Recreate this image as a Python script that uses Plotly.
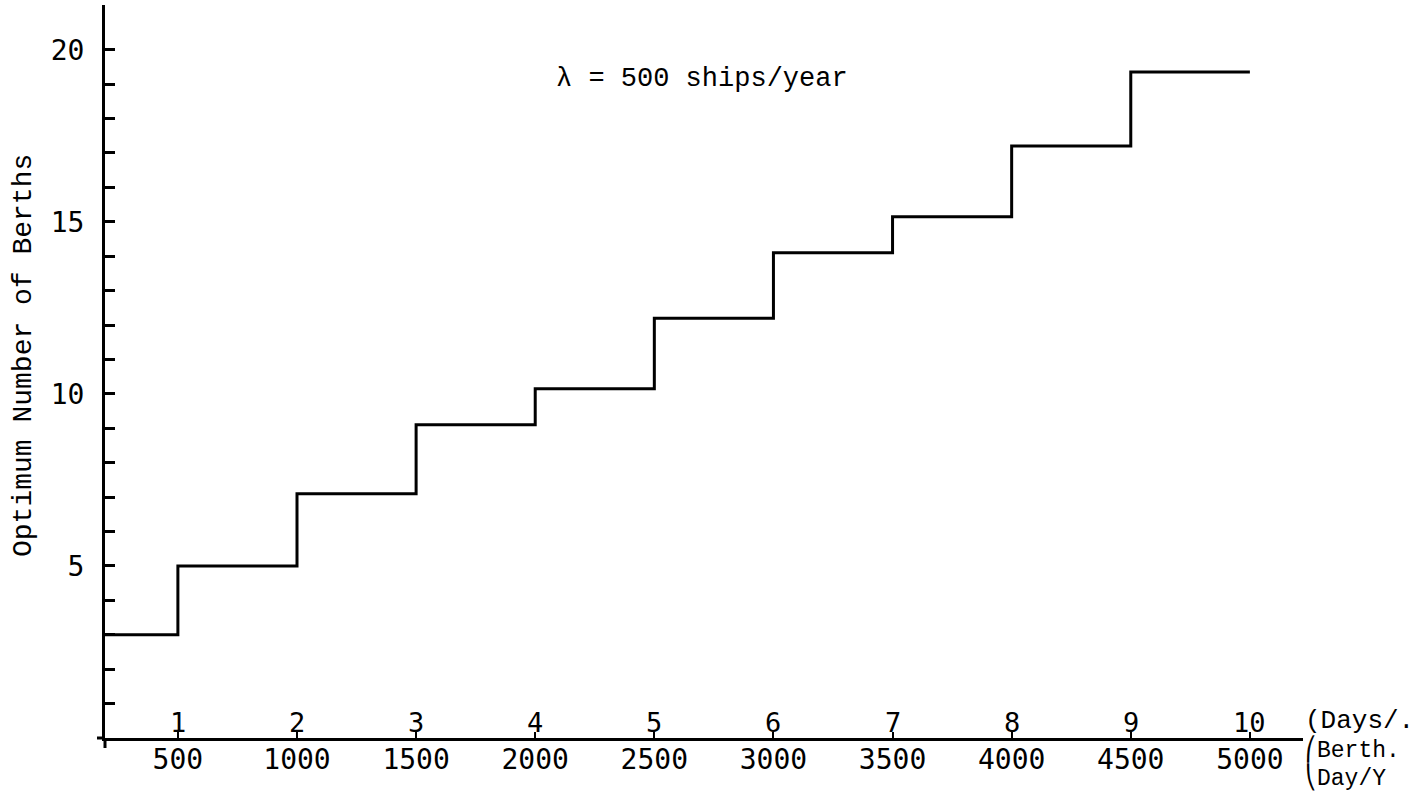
import plotly.graph_objects as go

# Annual berth cost thresholds (x) and days per ship (secondary scale)
berth_day_ticks = [500, 1000, 1500, 2000, 2500, 3000, 3500, 4000, 4500, 5000]
days_per_ship = [1, 2, 3, 4, 5, 6, 7, 8, 9, 10]

# Optimum number of berths on each interval (first level starts at the axis)
step_levels = [3, 5, 7.1, 9.1, 10.15, 12.2, 14.1, 15.15, 17.2, 19.35]

# Y-axis ticks: minor marks every berth, labels every 5
y_ticks = list(range(1, 21))
y_labels = [str(v) if v % 5 == 0 else "" for v in y_ticks]

X_MIN, X_MAX = 194, 5223
Y_MIN, Y_MAX = 0, 21.3
PLOT_W, PLOT_H = 1198, 733

MONO_SANS = "DejaVu Sans Mono"
TYPEWRITER = "Liberation Mono"

step_x = [X_MIN] + berth_day_ticks
step_y = step_levels + [step_levels[-1]]

fig = go.Figure()
fig.add_trace(go.Scatter(
    x=step_x, y=step_y, mode="lines",
    line=dict(shape="hv", color="black", width=3),
    hoverinfo="skip", showlegend=False,
))

annotations = []
# Days/ship labels sit just above the x axis
for xv, d in zip(berth_day_ticks, days_per_ship):
    annotations.append(dict(
        x=xv, y=0, xref="x", yref="y", text=str(d), showarrow=False,
        xanchor="center", yanchor="middle", yshift=16,
        font=dict(family=MONO_SANS, size=27, color="black"),
    ))

# Units at the right end of the axis
unit_lines = [("(Days/.", 17, 26), ("⎛Berth.", -11, 23), ("⎝Day/Y", -39, 23)]
for txt, shift, size in unit_lines:
    annotations.append(dict(
        x=1, y=0, xref="paper", yref="y", text=txt, showarrow=False,
        xanchor="left", yanchor="middle", yshift=shift,
        font=dict(family=TYPEWRITER, size=size, color="black"),
    ))

annotations.append(dict(
    x=2700, y=19.15, xref="x", yref="y", text="λ = 500 ships/year",
    showarrow=False, xanchor="center", yanchor="middle",
    font=dict(family=TYPEWRITER, size=27, color="black"),
))

annotations.append(dict(
    x=-82 / PLOT_W, y=(738 - 356) / PLOT_H, xref="paper", yref="paper",
    text="Optimum Number of Berths", textangle=-90, showarrow=False,
    xanchor="center", yanchor="middle",
    font=dict(family=TYPEWRITER, size=28, color="black"),
))

# Short overhangs where the two axes cross
shapes = [
    dict(type="line", xref="paper", yref="paper",
         x0=0, x1=0, y0=0, y1=-10 / PLOT_H,
         line=dict(color="black", width=3)),
    dict(type="line", xref="paper", yref="paper",
         x0=-8 / PLOT_W, x1=0, y0=0, y1=0,
         line=dict(color="black", width=3)),
]

fig.update_layout(
    width=1418, height=811, autosize=False,
    margin=dict(l=105, r=115, t=5, b=73),
    paper_bgcolor="white", plot_bgcolor="white",
    annotations=annotations, shapes=shapes,
    xaxis=dict(
        range=[X_MIN, X_MAX], showgrid=False, zeroline=False,
        showline=True, linecolor="black", linewidth=3,
        tickvals=berth_day_ticks, ticktext=[str(v) for v in berth_day_ticks],
        ticks="inside", ticklen=6, tickwidth=2, tickcolor="black",
        ticklabelstandoff=-6,
        tickfont=dict(family=MONO_SANS, size=28, color="black"),
    ),
    yaxis=dict(
        range=[Y_MIN, Y_MAX], showgrid=False, zeroline=False,
        showline=True, linecolor="black", linewidth=3,
        tickvals=y_ticks, ticktext=y_labels,
        ticks="inside", ticklen=10, tickwidth=2.5, tickcolor="black",
        ticklabelstandoff=12,
        tickfont=dict(family=MONO_SANS, size=28, color="black"),
    ),
)

fig.write_html("out.html")
